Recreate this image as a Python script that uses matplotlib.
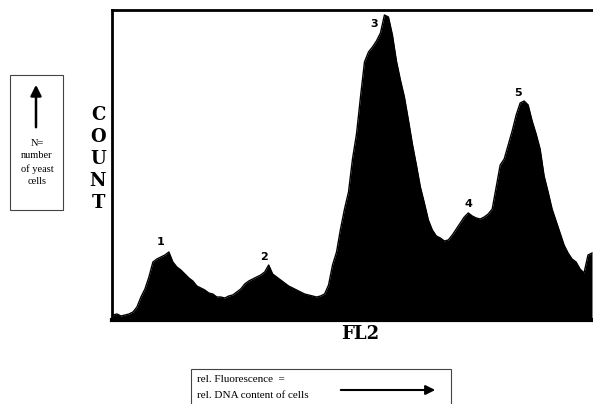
import matplotlib.pyplot as plt
import numpy as np
from matplotlib.patches import Rectangle

# FL2 histogram (channel spacing 4, arbitrary count units)
channel = np.arange(0, 484, 4)
count = [2, 3, 1, 2, 3, 5, 10, 20, 28, 40,
         55, 58, 60, 62, 65, 55, 50, 47, 43, 39,
         36, 31, 29, 27, 24, 23, 20, 20, 19, 21,
         22, 25, 28, 33, 36, 38, 40, 42, 45, 52,
         43, 40, 37, 34, 31, 29, 27, 25, 23, 22,
         21, 20, 21, 23, 32, 52, 65, 88, 108, 125,
         158, 183, 220, 255, 265, 270, 276, 284, 302, 300,
         282, 256, 237, 220, 197, 173, 152, 130, 114, 97,
         87, 81, 79, 76, 77, 82, 88, 94, 100, 104,
         101, 99, 98, 100, 103, 108, 130, 152, 158, 172,
         186, 202, 214, 216, 212, 196, 183, 168, 141, 125,
         108, 96, 84, 72, 64, 58, 55, 48, 44, 62, 64]

peak_labels = ['1', '2', '3', '4', '5']
peak_channel = [48, 151, 262, 356, 406]
peak_height = [70, 55, 288, 108, 219]

W, H = 593, 404


def px(x, y):
    # pixel position (from top-left) to figure fraction
    return x / W, 1 - y / H


fig = plt.figure(figsize=(W / 100, H / 100), dpi=100)
ax = fig.add_axes([112 / W, 1 - 320 / H, 481 / W, 310 / H])

ax.fill_between(channel, count, -3, color='black', lw=0)
ax.plot(channel, count, color='black', lw=1.0)
ax.set_xlim(-1, 481)
ax.set_ylim(-3, 307)
ax.set_xticks([])
ax.set_yticks([])
ax.spines['right'].set_visible(False)
ax.spines['top'].set_linewidth(2)
ax.spines['left'].set_linewidth(2)
ax.spines['bottom'].set_linewidth(3)

for lab, cx, cy in zip(peak_labels, peak_channel, peak_height):
    ax.text(cx, cy, lab, fontsize=8, fontweight='bold', ha='center', va='bottom',
            family='DejaVu Sans')

# axis titles
for i, ch in enumerate('COUNT'):
    fig.text(*px(98, 115 + 22 * i), ch, fontsize=13, fontweight='bold',
             family='DejaVu Serif', ha='center', va='center')
fig.text(*px(360, 334), 'FL2', fontsize=13, fontweight='bold',
         family='DejaVu Serif', ha='center', va='center')

# left explanatory box
x0, y0 = px(10, 210)
x1, y1 = px(63, 75)
fig.add_artist(Rectangle((x0, y0), x1 - x0, y1 - y0, transform=fig.transFigure,
                         fill=False, ec='#444444', lw=0.8))
plt.annotate('', xy=px(36, 82), xytext=px(36, 130), xycoords='figure fraction',
             arrowprops=dict(arrowstyle='-|>', lw=1.8, color='black', mutation_scale=16))
for i, line in enumerate(['N=', 'number', 'of yeast', 'cells']):
    fig.text(*px(37, 143 + 13 * i), line, fontsize=7.5, family='Liberation Serif',
             ha='center', va='center')

# bottom explanatory box
x0, y0 = px(191, 410)
x1, y1 = px(451, 369)
fig.add_artist(Rectangle((x0, y0), x1 - x0, y1 - y0, transform=fig.transFigure,
                         fill=False, ec='#444444', lw=0.8, clip_on=False))
fig.text(*px(197, 380), 'rel. Fluorescence  =', fontsize=8, family='Liberation Serif',
         ha='left', va='center')
fig.text(*px(197, 395), 'rel. DNA content of cells', fontsize=8, family='Liberation Serif',
         ha='left', va='center')
plt.annotate('', xy=px(438, 390), xytext=px(338, 390), xycoords='figure fraction',
             arrowprops=dict(arrowstyle='-|>', lw=1.5, color='black', mutation_scale=14))

fig.savefig('out.png', dpi=100)
